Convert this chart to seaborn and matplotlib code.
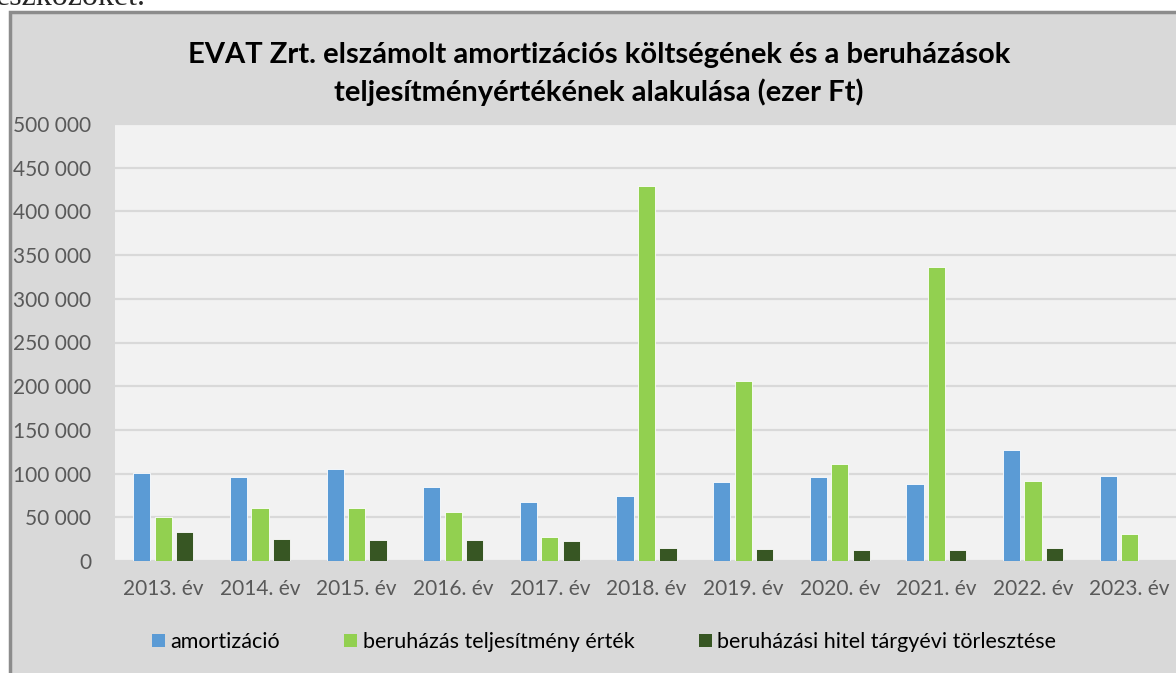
import numpy as np
import pandas as pd
import matplotlib
matplotlib.use("Agg")
import matplotlib.pyplot as plt
from matplotlib.patches import Rectangle, Patch
from matplotlib.ticker import FuncFormatter
import seaborn as sns

# Data (ezer Ft)
years = ["2013. év", "2014. év", "2015. év", "2016. év", "2017. év", "2018. év",
         "2019. év", "2020. év", "2021. év", "2022. év", "2023. év"]
series_names = ["amortizáció", "beruházás teljesítmény érték",
                "beruházási hitel tárgyévi törlesztése"]
amortizacio = [101000, 96000, 105000, 85000, 68000, 74000, 90000, 96000, 88000, 127000, 97000]
beruhazas = [50000, 61000, 61000, 56000, 27500, 429000, 206000, 111000, 336000, 92000, 31000]
hitel = [33000, 25500, 24000, 24000, 23000, 15000, 14000, 13000, 13000, 15000, np.nan]

colors = ["#5b9bd5", "#92d050", "#375623"]

df = pd.DataFrame({
    "year": years * 3,
    "series": [series_names[0]] * 11 + [series_names[1]] * 11 + [series_names[2]] * 11,
    "value": amortizacio + beruhazas + hitel,
})

sns.set_style("white")
plt.rcParams["font.family"] = ["Lato", "DejaVu Sans"]

W, H = 1176, 673
fig = plt.figure(figsize=(W / 100, H / 100), dpi=100)
fig.patch.set_facecolor("white")

# chart frame (cut off on the right and bottom like the reference)
fig.patches.append(Rectangle((10 / W, -0.02), 1.2, (H - 12) / H + 0.02,
                             transform=fig.transFigure, facecolor="#d9d9d9",
                             edgecolor="#8c8c8c", lw=2.5, zorder=-5))

# clipped text of the surrounding document
fig.text(-0.004, 1 - 5 / H, "eszközöket.", family="Liberation Serif",
         fontsize=23, va="baseline", ha="left")

ax = fig.add_axes([115 / W, (H - 561) / H, (1178 - 115) / W, (561 - 124) / H])
ax.set_facecolor("#f2f2f2")

sns.barplot(data=df, x="year", y="value", hue="series", hue_order=series_names,
            palette=colors, width=0.667, gap=0.2, ax=ax, legend=False,
            edgecolor="#ffffff", linewidth=0.6, saturation=1)

ax.set_xlim(-0.5, 10.5)
ax.set_ylim(0, 500000)
ax.set_yticks(np.arange(0, 500001, 50000))
ax.yaxis.set_major_formatter(FuncFormatter(lambda v, p: f"{v:,.0f}".replace(",", " ")))
ax.yaxis.grid(True, color="#d9d9d9", lw=1.6)
ax.set_axisbelow(True)
for s in ax.spines.values():
    s.set_visible(False)
ax.set_xlabel("")
ax.set_ylabel("")
ax.tick_params(axis="y", length=0, pad=17, labelsize=15, labelcolor="#595959")
ax.tick_params(axis="x", length=0, pad=13, labelsize=15, labelcolor="#595959")

fig.text(599 / W, 1 - 74 / H,
         "EVAT Zrt. elszámolt amortizációs költségének és a beruházások\n"
         "teljesítményértékének alakulása (ezer Ft)",
         ha="center", va="center", fontsize=21, fontweight="bold",
         linespacing=1.45, color="#000000")

handles = [Patch(facecolor=c, edgecolor="none") for c in colors]
leg = fig.legend(handles, series_names, loc="center", bbox_to_anchor=(604 / W, 1 - 642 / H),
                 ncol=3, frameon=False, fontsize=15.5, handlelength=0.6, handleheight=0.6,
                 handletextpad=0.25, columnspacing=3.0)
for t in leg.get_texts():
    t.set_color("#000000")

fig.savefig("out.png", dpi=100, facecolor=fig.get_facecolor())
